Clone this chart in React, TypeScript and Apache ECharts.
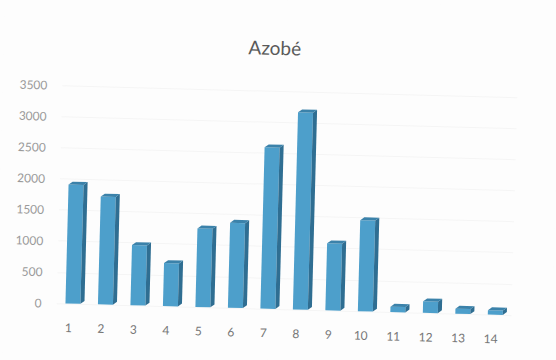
import React, { useEffect, useRef } from "react";
import * as echarts from "echarts";

const titleText = "Azobé";
const categories = ["1", "2", "3", "4", "5", "6", "7", "8", "9", "10", "11", "12", "13", "14"];
const values = [1910, 1730, 965, 690, 1260, 1365, 2590, 3165, 1075, 1460, 85, 185, 80, 70];
const yTicks = { min: 0, max: 3500, interval: 500 };

const BAR_W = 15;
const DEPTH_X = 4;
const DEPTH_Y = 3;

export default function App() {
  const ref = useRef<HTMLDivElement>(null);
  useEffect(() => {
    const chart = echarts.init(ref.current!, null, { renderer: "svg", width: 556, height: 360 });
    chart.setOption({
      animation: false,
      backgroundColor: "#fdfdfd",
      textStyle: { fontFamily: "Lato" },
      title: {
        text: titleText,
        left: 240,
        top: 33,
        textStyle: { fontFamily: "Lato", fontSize: 19, fontWeight: "normal", color: "#5a5a5a" },
      },
      grid: { left: 60, right: 41, top: 91, bottom: 51 },
      xAxis: {
        type: "category",
        data: categories,
        axisLine: { show: false },
        axisTick: { show: false },
        axisLabel: { color: "#777", fontSize: 12, margin: 18, interval: 0, padding: [0, 8, 0, 0] },
      },
      yAxis: {
        type: "value",
        ...yTicks,
        axisLine: { show: false },
        axisTick: { show: false },
        axisLabel: { color: "#9a9a9a", fontSize: 12, margin: 15, formatter: (v: number) => String(v) },
        splitLine: { lineStyle: { color: "#f5f5f5", width: 1 } },
      },
      series: [
        {
          type: "custom",
          data: values.map((v, i) => [i, v]),
          encode: { x: 0, y: 1 },
          renderItem: (_p: any, api: any) => {
            const top = api.coord([api.value(0), api.value(1)]);
            const base = api.coord([api.value(0), 0]);
            const l = top[0] - BAR_W / 2;
            const r = l + BAR_W;
            const t = top[1];
            const b = base[1];
            return {
              type: "group",
              children: [
                {
                  type: "polygon",
                  shape: { points: [[l, t], [r, t], [r, b], [l, b]] },
                  style: { fill: "#4d9fcb" },
                },
                {
                  type: "polygon",
                  shape: { points: [[r, t], [r + DEPTH_X, t - DEPTH_Y], [r + DEPTH_X, b - DEPTH_Y], [r, b]] },
                  style: { fill: "#2f6e92" },
                },
                {
                  type: "polygon",
                  shape: { points: [[l, t], [l + DEPTH_X, t - DEPTH_Y], [r + DEPTH_X, t - DEPTH_Y], [r, t]] },
                  style: { fill: "#3b82aa" },
                },
              ],
            };
          },
        },
      ],
    });
    return () => chart.dispose();
  }, []);
  return (
    <div style={{ position: "fixed", left: 0, top: 0, width: 556, height: 360, overflow: "hidden", background: "#fdfdfd" }}>
      <div ref={ref} style={{ width: 556, height: 360, transform: "rotate(1.5deg)", transformOrigin: "50% 50%" }} />
    </div>
  );
}
